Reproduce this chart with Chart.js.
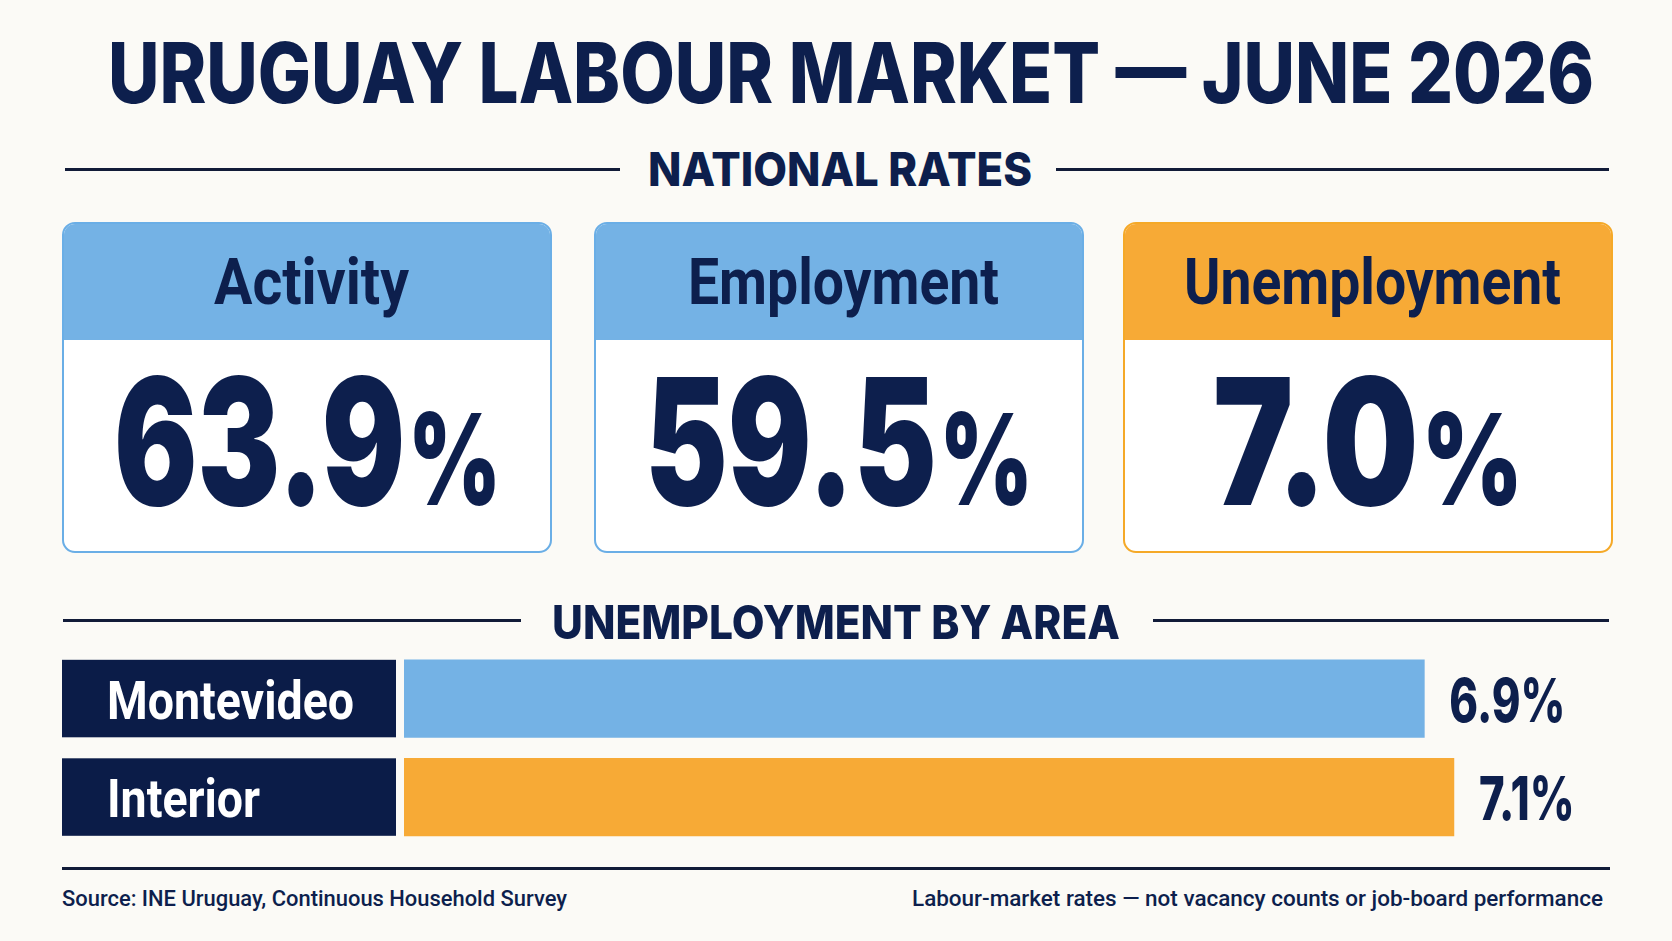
<!DOCTYPE html>
<html>
<head>
<meta charset="utf-8">
<title>Uruguay Labour Market — June 2026</title>
<script src="https://cdn.jsdelivr.net/npm/chart.js@4.4.1/dist/chart.umd.min.js"></script>
<style>
html, body { margin: 0; padding: 0; background: #fbfaf6; }
#page { position: relative; width: 1672px; height: 941px; overflow: hidden; color: #0d1f4d; }
.t { position: absolute; white-space: nowrap; line-height: 1; }
.t span.in { display: inline-block; transform-origin: 0 50%; }
.rule { position: absolute; height: 3px; background: #111b38; }
.card { position: absolute; box-sizing: border-box; border: 2px solid; border-radius: 13px; background: #fff; overflow: hidden; }
.card .head { position: absolute; left: 0; right: 0; top: 0; height: 116px; }
#chartBox { position: absolute; left: 0; top: 640px; width: 1672px; height: 215px; }
</style>
</head>
<body>
<div id="page">
  <div id="chartBox"><canvas id="areaChart"></canvas></div>
</div>
<script>
// national rates (cards)
const kpiNames = ['Activity', 'Employment', 'Unemployment'];
const kpiRates = [63.9, 59.5, 7.0];
const kpiColors = ['#74b2e5', '#74b2e5', '#f7aa36'];
const kpiBorders = ['#6aaee6', '#6aaee6', '#f5a928'];

// unemployment by area (bars)
const areas = ['Montevideo', 'Interior'];
const areaRates = [6.9, 7.1];
const areaColors = ['#74b2e5', '#f7aa36'];

const NAVY = '#0d1f4d';
const page = document.getElementById('page');

// text placed by left edge, squeezed/stretched to a target width
function addText(txt, x, w, cy, size, weight, family, color) {
  var d = document.createElement('div');
  d.className = 't';
  d.style.top = (cy - size * 0.5) + 'px';
  d.style.fontSize = size + 'px';
  d.style.fontWeight = weight;
  d.style.fontFamily = family;
  d.style.color = color || NAVY;
  var s = document.createElement('span');
  s.className = 'in';
  if (typeof txt === 'string') s.textContent = txt; else s.appendChild(txt);
  d.appendChild(s);
  page.appendChild(d);
  var nat = s.getBoundingClientRect().width;
  s.style.transform = 'scaleX(' + (w / nat) + ')';
  d.style.left = x + 'px';
  return d;
}
function addRule(x1, x2, y) {
  var r = document.createElement('div');
  r.className = 'rule';
  r.style.left = x1 + 'px';
  r.style.width = (x2 - x1) + 'px';
  r.style.top = (y - 1.5) + 'px';
  page.appendChild(r);
}

// title
addText('URUGUAY LABOUR MARKET \u2014 JUNE 2026', 108, 1486, 73, 84, 800, 'Inter');

// national rates header
addRule(65, 620, 169);
addRule(1056, 1609, 169);
addText('NATIONAL RATES', 648, 384, 168, 47, 800, 'Inter');

// cards
var cardLeft = [62, 594, 1123];
var cardW = 490;
var nameW = [195, 311, 377];
var numW = [387, 388, 310];
kpiNames.forEach(function (name, i) {
  var c = document.createElement('div');
  c.className = 'card';
  c.style.left = cardLeft[i] + 'px';
  c.style.top = '222px';
  c.style.width = cardW + 'px';
  c.style.height = '331px';
  c.style.borderColor = kpiBorders[i];
  var h = document.createElement('div');
  h.className = 'head';
  h.style.background = kpiColors[i];
  c.appendChild(h);
  page.appendChild(c);

  var cx = cardLeft[i] + cardW / 2;
  addText(name, cx - nameW[i] / 2 + 4, nameW[i], 283, 64, 700, 'Roboto');

  var frag = document.createDocumentFragment();
  frag.appendChild(document.createTextNode(kpiRates[i].toFixed(1)));
  var pc = document.createElement('span');
  pc.textContent = '%';
  pc.style.fontSize = '0.72em';
  pc.style.marginLeft = '0.03em';
  frag.appendChild(pc);
  addText(frag, cx - numW[i] / 2, numW[i], 441, 176, 900, 'Inter');
});

// unemployment by area header
addRule(63, 521, 620);
addRule(1153, 1609, 620);
addText('UNEMPLOYMENT BY AREA', 552, 568, 621, 47, 800, 'Inter');

// footer
addRule(62, 1610, 868);
addText('Source: INE Uruguay, Continuous Household Survey', 62, 505, 899, 22, 500, 'Roboto');
addText('Labour-market rates \u2014 not vacancy counts or job-board performance', 912, 691, 899, 22, 500, 'Roboto');

// label boxes on the left and value labels right of each bar
const areaLabels = {
  id: 'areaLabels',
  afterDatasetsDraw(chart) {
    const ctx = chart.ctx;
    const bars = chart.getDatasetMeta(0).data;
    ctx.save();
    ctx.textBaseline = 'alphabetic';
    ctx.font = '700 54px Roboto';
    const kName = 247 / ctx.measureText(areas[0]).width;
    ctx.font = '800 60px Inter';
    const kVal = 116 / ctx.measureText(areaRates[0].toFixed(1) + '%').width;
    bars.forEach(function (bar, i) {
      const top = bar.y - bar.height / 2;
      ctx.fillStyle = '#0b1c48';
      ctx.fillRect(62, top, 334, bar.height);

      ctx.save();
      ctx.fillStyle = '#ffffff';
      ctx.font = '700 54px Roboto';
      ctx.translate(107, bar.y + 20);
      ctx.scale(kName, 1);
      ctx.fillText(areas[i], 0, 0);
      ctx.restore();

      ctx.save();
      ctx.fillStyle = NAVY;
      ctx.font = '800 60px Inter';
      ctx.translate(bar.x + 25, bar.y + 23);
      ctx.scale(kVal, 1);
      ctx.fillText(areaRates[i].toFixed(1) + '%', 0, 0);
      ctx.restore();
    });
    ctx.restore();
  }
};

new Chart(document.getElementById('areaChart'), {
  type: 'bar',
  data: {
    labels: areas,
    datasets: [{
      data: areaRates,
      backgroundColor: areaColors,
      borderWidth: 0,
      barThickness: 77.5
    }]
  },
  options: {
    indexAxis: 'y',
    responsive: true,
    maintainAspectRatio: false,
    animation: false,
    layout: { padding: { left: 404, right: 85, top: 9.3, bottom: 8.7 } },
    scales: {
      x: { min: 0, max: 8, display: false },
      y: { display: false }
    },
    plugins: {
      legend: { display: false },
      tooltip: { enabled: false }
    }
  },
  plugins: [areaLabels]
});
</script>
</body>
</html>
